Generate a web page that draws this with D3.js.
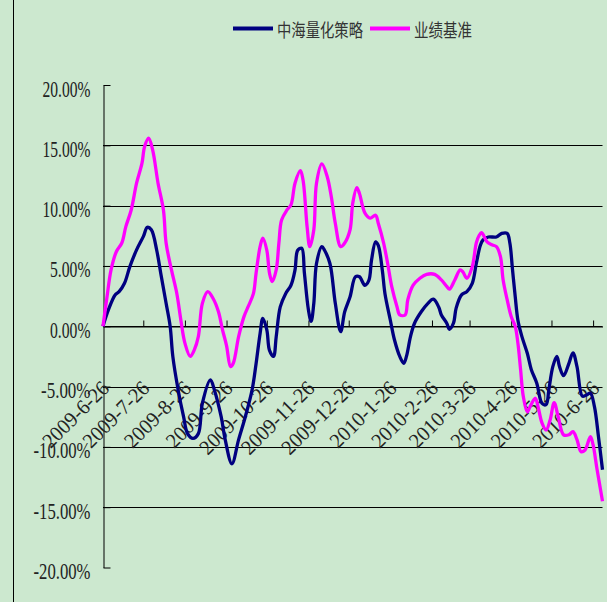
<!DOCTYPE html>
<html>
<head>
<meta charset="utf-8">
<script src="https://cdn.jsdelivr.net/npm/d3@7"></script>
<style>
  body { margin: 0; background: #cce8cf; }
  svg { display: block; }
</style>
</head>
<body>
<svg id="drawing_region"></svg>
<script>
const seriesNames = ['中海量化策略', '业绩基准'];
const seriesColors = ['#000080', '#ff00ff'];

const tickLabels = ['2009-6-26', '2009-7-26', '2009-8-26', '2009-9-26', '2009-10-26', '2009-11-26',
    '2009-12-26', '2010-1-26', '2010-2-26', '2010-3-26', '2010-4-26', '2010-5-26', '2010-6-26'];
const yTicks = [20, 15, 10, 5, 0, -5, -10, -15, -20];

const strategyDates = ['2009-06-26','2009-06-30','2009-07-05','2009-07-08','2009-07-12','2009-07-16','2009-07-21',
    '2009-07-26','2009-07-29','2009-08-01','2009-08-05','2009-08-08','2009-08-12','2009-08-15','2009-08-17',
    '2009-08-21','2009-08-25','2009-08-28','2009-09-01','2009-09-05','2009-09-08','2009-09-14','2009-09-17',
    '2009-09-22','2009-09-25','2009-09-30','2009-10-05','2009-10-10','2009-10-15','2009-10-18','2009-10-21',
    '2009-10-23','2009-10-26','2009-10-28','2009-10-31','2009-11-02','2009-11-05','2009-11-09','2009-11-13',
    '2009-11-16','2009-11-18','2009-11-21','2009-11-23','2009-11-26','2009-11-28','2009-11-30','2009-12-02',
    '2009-12-06','2009-12-08','2009-12-12','2009-12-16','2009-12-20','2009-12-23','2009-12-27','2009-12-31',
    '2010-01-03','2010-01-07','2010-01-10','2010-01-12','2010-01-15','2010-01-17','2010-01-20','2010-01-22',
    '2010-01-26','2010-01-29','2010-02-02','2010-02-05','2010-02-07','2010-02-10','2010-02-13','2010-02-18',
    '2010-02-23','2010-02-27','2010-03-03','2010-03-05','2010-03-09','2010-03-11','2010-03-14','2010-03-16',
    '2010-03-20','2010-03-24','2010-03-28','2010-03-31','2010-04-03','2010-04-05','2010-04-09','2010-04-15',
    '2010-04-19','2010-04-23','2010-04-25','2010-04-27','2010-04-29','2010-05-01','2010-05-04','2010-05-08',
    '2010-05-11','2010-05-15','2010-05-19','2010-05-22','2010-05-24','2010-05-27','2010-05-30','2010-06-01',
    '2010-06-04','2010-06-08','2010-06-11','2010-06-14','2010-06-18','2010-06-21','2010-06-24','2010-06-27',
    '2010-06-30','2010-07-03'];
const strategyValues = [0, 1.35, 2.6, 2.87, 3.56, 4.94, 6.33,
    7.43, 8.2, 8.0, 6.3, 4.4, 1.9, 0, -2.5,
    -5.3, -7.5, -8.9, -9.3, -8.9, -6.4, -4.45, -5.3,
    -7.5, -9.4, -11.4, -9.4, -7.5, -5.3, -3.1, -0.6,
    0.66, -0.3, -2.0, -2.5, -0.86, 1.6, 2.7, 3.4,
    4.67, 6.3, 6.47, 4.4, 1.35, 0.4, 1.9, 5.2,
    6.6, 6.3, 5.2, 1.9, -0.45, 1.2, 2.45, 4.1,
    4.1, 3.4, 3.8, 5.5, 7.0, 6.7, 4.67, 2.7,
    0.5, -1.1, -2.5, -3.07, -2.5, -0.86, 0.25, 1.2,
    1.9, 2.24, 1.6, 0.94, 0.25, -0.25, 0.25, 1.5,
    2.6, 2.87, 3.56, 5.2, 6.7, 7.15, 7.4, 7.4,
    7.7, 7.7, 6.9, 4.67, 2.45, 0.5, -0.86, -2.24,
    -3.6, -4.7, -6.4, -6.5, -5.3, -3.35, -2.5, -3.35,
    -4.1, -3.07, -2.2, -3.35, -5.8, -5.7, -5.55, -6.67,
    -9.15, -11.9];

const benchmarkDates = ['2009-06-26','2009-06-29','2009-07-02','2009-07-06','2009-07-10','2009-07-13','2009-07-17',
    '2009-07-21','2009-07-25','2009-07-27','2009-07-30','2009-08-02','2009-08-06','2009-08-10','2009-08-12',
    '2009-08-16','2009-08-20','2009-08-23','2009-08-26','2009-08-30','2009-09-02','2009-09-05','2009-09-08',
    '2009-09-12','2009-09-16','2009-09-20','2009-09-23','2009-09-26','2009-09-29','2009-10-01','2009-10-05',
    '2009-10-09','2009-10-12','2009-10-16','2009-10-18','2009-10-21','2009-10-23','2009-10-26','2009-10-28',
    '2009-10-30','2009-11-02','2009-11-04','2009-11-06','2009-11-10','2009-11-13','2009-11-16','2009-11-20',
    '2009-11-22','2009-11-25','2009-11-27','2009-11-30','2009-12-02','2009-12-06','2009-12-10','2009-12-13',
    '2009-12-16','2009-12-20','2009-12-23','2009-12-27','2009-12-29','2010-01-01','2010-01-03','2010-01-07',
    '2010-01-11','2010-01-15','2010-01-17','2010-01-21','2010-01-24','2010-01-27','2010-01-31','2010-02-02',
    '2010-02-06','2010-02-08','2010-02-12','2010-02-17','2010-02-22','2010-02-28','2010-03-05','2010-03-09',
    '2010-03-11','2010-03-15','2010-03-19','2010-03-21','2010-03-24','2010-03-28','2010-03-31','2010-04-02',
    '2010-04-04','2010-04-08','2010-04-12','2010-04-15','2010-04-18','2010-04-20','2010-04-23','2010-04-26',
    '2010-04-29','2010-05-01','2010-05-03','2010-05-05','2010-05-08','2010-05-10','2010-05-14','2010-05-16',
    '2010-05-19','2010-05-22','2010-05-25','2010-05-28','2010-05-31','2010-06-04','2010-06-08','2010-06-11',
    '2010-06-14','2010-06-17','2010-06-20','2010-06-24','2010-06-26','2010-06-29','2010-07-03'];
const benchmarkValues = [0, 2.45, 4.67, 6.2, 6.9, 8.26, 9.64,
    11.86, 13.5, 14.9, 15.6, 14.6, 11.86, 9.64, 6.9,
    4.67, 2.7, 0.5, -1.4, -2.5, -1.96, -0.86, 1.9,
    2.87, 2.3, 1.2, -0.3, -1.6, -3.35, -3.07, -0.86,
    0.8, 1.6, 2.7, 4.4, 6.6, 7.3, 6.3, 4.4,
    3.7, 4.67, 6.9, 8.8, 9.64, 10.06, 11.86, 12.9,
    12.1, 8.26, 6.6, 8.0, 11.86, 13.46, 12.4, 10.75,
    8.54, 6.6, 6.9, 8.0, 10.2, 11.5, 11.0, 9.4,
    8.96, 9.2, 8.54, 6.9, 5.2, 3.3, 1.6, 0.94,
    0.94, 2.2, 3.4, 3.98, 4.3, 4.3, 3.84, 3.3,
    3.07, 3.84, 4.67, 4.5, 3.98, 4.94, 6.9, 7.5,
    7.76, 7.0, 6.74, 6.6, 5.77, 3.84, 2.2, 0.8,
    0, -1.4, -3.6, -5.8, -7.1, -6.67, -5.97, -6.67,
    -8.04, -8.6, -7.77, -6.33, -7.5, -9.0, -9.0, -8.74,
    -9.4, -10.4, -10.26, -9.15, -9.84, -11.9, -14.5];

const parseDate = d3.timeParse('%Y-%m-%d');

class LineChart {

    constructor( config ) {
        this.config = {
            parent: config.parent,
            width: config.width || 607,
            height: config.height || 602,
            plot: config.plot,
            xdomain: config.xdomain,
            ydomain: config.ydomain,
        };
        this.series = [
            { name: seriesNames[0], color: seriesColors[0],
              data: strategyDates.map((d, i) => ({ date: parseDate(d), value: strategyValues[i] })) },
            { name: seriesNames[1], color: seriesColors[1],
              data: benchmarkDates.map((d, i) => ({ date: parseDate(d), value: benchmarkValues[i] })) },
        ];
        this.init();
    }

    init() {
        let self = this;
        let p = self.config.plot;

        self.svg = d3.select( self.config.parent )
            .attr('width', self.config.width)
            .attr('height', self.config.height);

        self.xscale = d3.scaleTime()
            .domain(self.config.xdomain.map(parseDate))
            .range([p.left, p.right]);

        self.yscale = d3.scaleLinear()
            .domain(self.config.ydomain)
            .range([p.bottom, p.top]);
    }

    render() {
        let self = this;
        let p = self.config.plot;

        // chart area border on the left
        self.svg.append('line')
            .attr('x1', 13.5).attr('x2', 13.5)
            .attr('y1', 0).attr('y2', self.config.height)
            .attr('stroke', '#000').attr('stroke-width', 1);

        // horizontal gridlines
        self.svg.append('g')
            .selectAll('line')
            .data(yTicks.filter(t => Math.abs(t) < 20))
            .join('line')
            .attr('x1', p.left).attr('x2', p.right)
            .attr('y1', d => Math.round(self.yscale(d)) + 0.5)
            .attr('y2', d => Math.round(self.yscale(d)) + 0.5)
            .attr('stroke', '#000').attr('stroke-width', 1);

        // y axis
        let yaxis = d3.axisLeft(self.yscale)
            .tickValues(yTicks)
            .tickSizeInner(-7)
            .tickSizeOuter(0)
            .tickFormat(d => d.toFixed(2) + '%');

        let yg = self.svg.append('g')
            .attr('transform', `translate(${p.left + 0.5}, 0)`)
            .call(yaxis);
        yg.select('.domain').attr('stroke', '#000');
        yg.selectAll('.tick line').attr('stroke', '#000');
        yg.selectAll('.tick text')
            .attr('x', -13)
            .attr('dy', 0)
            .attr('y', 11)
            .attr('fill', '#222')
            .attr('font-family', '"Liberation Serif", serif')
            .attr('font-size', 23)
            .attr('lengthAdjust', 'spacingAndGlyphs')
            .attr('textLength', d => {
                let s = d.toFixed(2);
                let digits = s.replace(/[^0-9]/g, '').length;
                return digits * 7.5 + 18 + (d < 0 ? 9 : 0);
            });

        // x axis crossing at 0
        let tickDates = tickLabels.map(s => {
            let [y, m, d] = s.split('-');
            return new Date(+y, +m - 1, +d);
        });
        let xaxis = d3.axisBottom(self.xscale)
            .tickValues(tickDates)
            .tickSizeInner(-6)
            .tickSizeOuter(0)
            .tickFormat((d, i) => tickLabels[i]);

        let xg = self.svg.append('g')
            .attr('transform', `translate(0, ${Math.round(self.yscale(0)) + 0.5})`)
            .call(xaxis);
        xg.select('.domain').attr('stroke', '#000');
        xg.selectAll('.tick line').attr('stroke', '#000');
        xg.selectAll('.tick text')
            .attr('y', 0)
            .attr('dy', 0)
            .attr('text-anchor', 'end')
            .attr('transform', 'translate(7, 63) rotate(-45)')
            .attr('fill', '#222')
            .attr('font-family', '"Liberation Serif", serif')
            .attr('font-size', 21)
            .attr('lengthAdjust', 'spacingAndGlyphs')
            .attr('textLength', (d, i) => tickLabels[i].length * 9.4);

        // series lines
        let line = d3.line()
            .x(d => self.xscale(d.date))
            .y(d => self.yscale(d.value))
            .curve(d3.curveCatmullRom.alpha(0.5));

        self.svg.append('g')
            .selectAll('path')
            .data(self.series)
            .join('path')
            .attr('d', d => line(d.data))
            .attr('fill', 'none')
            .attr('stroke', d => d.color)
            .attr('stroke-width', 3.3)
            .attr('stroke-linejoin', 'round');

        // legend
        let legend = self.svg.append('g');
        let items = [
            { x: 233, w: 86 },
            { x: 370, w: 58 },
        ];
        items.forEach((it, i) => {
            legend.append('line')
                .attr('x1', it.x).attr('x2', it.x + 40)
                .attr('y1', 28.5).attr('y2', 28.5)
                .attr('stroke', seriesColors[i])
                .attr('stroke-width', 4);
            legend.append('text')
                .attr('x', it.x + 44)
                .attr('y', 37)
                .attr('fill', '#333')
                .attr('font-family', '"Noto Sans CJK SC", sans-serif')
                .attr('font-size', 18)
                .attr('lengthAdjust', 'spacingAndGlyphs')
                .attr('textLength', it.w)
                .text(seriesNames[i]);
        });
    }
}

let chart = new LineChart({
    parent: '#drawing_region',
    width: 607,
    height: 602,
    plot: { left: 103, right: 602.5, top: 85, bottom: 567.5 },
    xdomain: ['2009-06-26', '2010-07-03'],
    ydomain: [-20, 20],
});
chart.render();
</script>
</body>
</html>
